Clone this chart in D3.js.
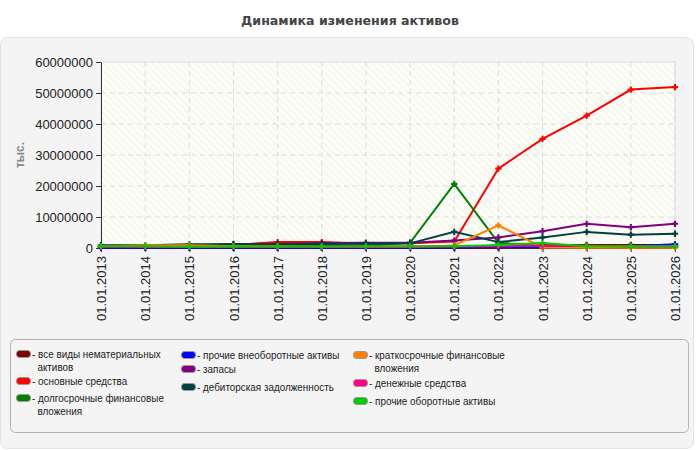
<!DOCTYPE html>
<html>
<head>
<meta charset="utf-8">
<script src="https://cdn.jsdelivr.net/npm/d3@7"></script>
<style>
	body { margin: 0; background: #fff; }
	svg { font-family: "Liberation Sans", Arial, sans-serif; }
	.grid line { stroke: #dcdcdc; stroke-dasharray: 5,4; }
	.axis path, .axis line { stroke: #333; }
	.axis text { font-size: 13px; fill: #222; font-family: "Liberation Sans", Arial, sans-serif; }
	.legend text { font-size: 11px; fill: #222; font-family: "Liberation Sans", Arial, sans-serif; }
</style>
</head>
<body>
<div id="chart-area"></div>
<script>
// Data (тыс.)
const dates = ["01.01.2013","01.01.2014","01.01.2015","01.01.2016","01.01.2017","01.01.2018","01.01.2019",
	"01.01.2020","01.01.2021","01.01.2022","01.01.2023","01.01.2024","01.01.2025","01.01.2026"];
const seriesNames = ["все виды нематериальных активов", "основные средства", "долгосрочные финансовые вложения",
	"прочие внеоборотные активы", "запасы", "дебиторская задолженность",
	"краткосрочные финансовые вложения", "денежные средства", "прочие оборотные активы"];
const seriesColors = ["#800000", "#ff0000", "#008000", "#0000ff", "#800080", "#004040", "#ff8000", "#ff0080", "#00cc00"];

const intangibles     = [100000, 100000, 100000, 100000, 100000, 100000, 100000, 100000, 100000, 200000, 900000, 1000000, 1000000, 1000000];
const fixedAssets     = [300000, 300000, 700000, 1000000, 1900000, 1900000, 1400000, 1500000, 2100000, 25600000, 35200000, 42700000, 51100000, 51900000];
const longInvest      = [600000, 600000, 600000, 700000, 700000, 700000, 700000, 1700000, 20700000, 1700000, 600000, 500000, 500000, 500000];
const otherNonCurrent = [100000, 100000, 100000, 100000, 100000, 100000, 100000, 100000, 200000, 300000, 300000, 300000, 600000, 1200000];
const inventory       = [700000, 700000, 800000, 1300000, 1300000, 1600000, 1700000, 1700000, 2400000, 3400000, 5400000, 7800000, 6700000, 7800000];
const receivables     = [900000, 900000, 1200000, 1200000, 1300000, 1300000, 1400000, 1500000, 5200000, 1900000, 3400000, 5200000, 4300000, 4600000];
const shortInvest     = [500000, 900000, 900000, 600000, 500000, 300000, 300000, 300000, 800000, 7300000, 200000, 100000, 100000, 100000];
const cash            = [400000, 300000, 300000, 300000, 300000, 300000, 400000, 400000, 500000, 600000, 700000, 700000, 500000, 500000];
const otherCurrent    = [600000, 600000, 400000, 500000, 500000, 500000, 600000, 600000, 600000, 1000000, 1600000, 600000, 600000, 600000];

const seriesValues = [intangibles, fixedAssets, longInvest, otherNonCurrent, inventory, receivables, shortInvest, cash, otherCurrent];
const yTicks = [0, 10000000, 20000000, 30000000, 40000000, 50000000, 60000000];

const W = 700, H = 450;
const margin = {top: 62, left: 101, right: 25, bottom: 202};
const width = W - margin.left - margin.right,
	height = H - margin.top - margin.bottom;

const svg = d3.select("#chart-area").append("svg")
	.attr("width", W)
	.attr("height", H);

// hatch pattern for plot background
const pat = svg.append("defs").append("pattern")
	.attr("id", "hatch")
	.attr("patternUnits", "userSpaceOnUse")
	.attr("width", 5).attr("height", 5)
	.attr("patternTransform", "rotate(-45)");
pat.append("rect").attr("width", 5).attr("height", 5).attr("fill", "#fdfdf7");
pat.append("line").attr("x1", 0).attr("y1", 0).attr("x2", 0).attr("y2", 5)
	.attr("stroke", "#efefea").attr("stroke-width", 1.5);

// outer panel
svg.append("rect")
	.attr("x", 0.5).attr("y", 37.5)
	.attr("width", 693).attr("height", 411)
	.attr("rx", 7)
	.attr("fill", "#f4f4f4")
	.attr("stroke", "#e2e2e2");

svg.append("text")
	.attr("x", W / 2).attr("y", 25)
	.attr("text-anchor", "middle")
	.style("font-family", "'DejaVu Sans', Verdana, sans-serif")
	.style("font-size", "12.6px")
	.style("font-weight", "bold")
	.style("fill", "#444")
	.text("Динамика изменения активов");

const g = svg.append("g")
	.attr("transform", "translate(" + margin.left + "," + margin.top + ")");

const x = d3.scalePoint()
	.domain(dates)
	.range([0, width]);
const y = d3.scaleLinear()
	.domain([0, 60000000])
	.range([height, 0]);

g.append("rect")
	.attr("width", width).attr("height", height)
	.attr("fill", "url(#hatch)")
	.attr("stroke", "#dddddd");

// grid
g.append("g").attr("class", "grid")
	.selectAll("line").data(dates.slice(1)).join("line")
	.attr("x1", d => x(d)).attr("x2", d => x(d))
	.attr("y1", 0).attr("y2", height);
g.append("g").attr("class", "grid")
	.selectAll("line").data(yTicks.slice(1, -1)).join("line")
	.attr("x1", 0).attr("x2", width)
	.attr("y1", d => y(d)).attr("y2", d => y(d));

const yAxis = d3.axisLeft(y).tickValues(yTicks).tickFormat(d3.format("d")).tickSize(5).tickSizeOuter(0);
g.append("g").attr("class", "axis y-axis").call(yAxis);

const xAxis = d3.axisBottom(x).tickSize(4).tickSizeOuter(0);
g.append("g").attr("class", "axis x-axis")
	.attr("transform", "translate(0," + height + ")")
	.call(xAxis)
	.selectAll("text")
	.attr("transform", "rotate(-90)")
	.attr("text-anchor", "end")
	.attr("x", -8)
	.attr("y", 0)
	.attr("dy", "0.35em");

svg.append("text")
	.attr("transform", "translate(24,155) rotate(-90)")
	.attr("text-anchor", "middle")
	.style("font-size", "12px")
	.style("font-weight", "bold")
	.style("fill", "#888")
	.text("тыс.");

// lines
const line = d3.line()
	.x((d, i) => x(dates[i]))
	.y(d => y(d));
const marker = d3.symbol().type(d3.symbolCross).size(22);

seriesValues.forEach((vals, k) => {
	g.append("path")
		.datum(vals)
		.attr("fill", "none")
		.attr("stroke", seriesColors[k])
		.attr("stroke-width", 2)
		.attr("d", line);
	g.append("g").selectAll("path").data(vals).join("path")
		.attr("transform", (d, i) => "translate(" + x(dates[i]) + "," + y(d) + ")")
		.attr("d", marker)
		.attr("fill", seriesColors[k]);
});

// legend
svg.append("rect")
	.attr("x", 10.5).attr("y", 339.5)
	.attr("width", 678).attr("height", 93)
	.attr("rx", 5)
	.attr("fill", "#f4f4f4")
	.attr("stroke", "#b4b4b4");

const legendPos = [
	[16, 354, ["все виды нематериальных", "активов"]],
	[16, 381, ["основные средства"]],
	[16, 398, ["долгосрочные финансовые", "вложения"]],
	[181, 355, ["прочие внеоборотные активы"]],
	[181, 369, ["запасы"]],
	[181, 387, ["дебиторская задолженность"]],
	[353, 355, ["краткосрочные финансовые", "вложения"]],
	[353, 383, ["денежные средства"]],
	[353, 401, ["прочие оборотные активы"]]
];
const legend = svg.append("g").attr("class", "legend");
legendPos.forEach((p, k) => {
	const item = legend.append("g").attr("transform", "translate(" + p[0] + "," + p[1] + ")");
	item.append("rect")
		.attr("x", 0.5).attr("y", -3.5)
		.attr("width", 14).attr("height", 7)
		.attr("rx", 3)
		.attr("fill", seriesColors[k])
		.attr("stroke", "#999");
	// narrow the label like the original's condensed face
	const t = item.append("text")
		.attr("transform", "translate(16,4) scale(0.9,1)");
	p[2].forEach((s, j) => {
		t.append("tspan")
			.attr("x", j ? 6 : 0)
			.attr("dy", j ? 12.7 : 0)
			.text(j ? s : "- " + s);
	});
});
</script>
</body>
</html>
